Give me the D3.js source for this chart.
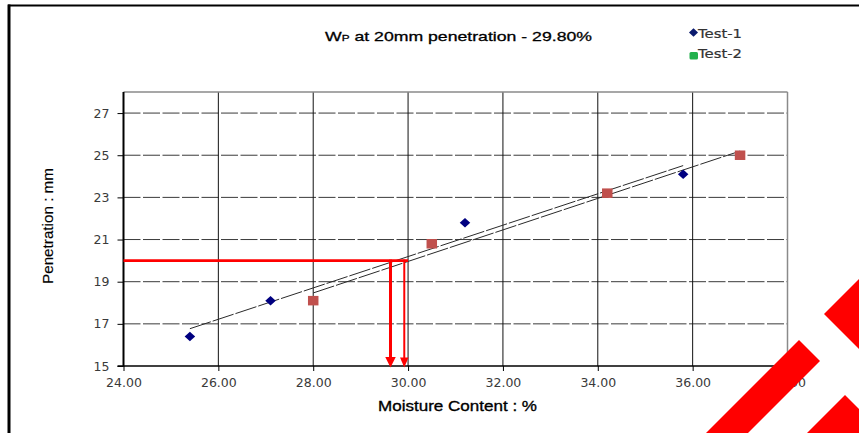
<!DOCTYPE html>
<html>
<head>
<meta charset="utf-8">
<script src="https://cdn.jsdelivr.net/npm/d3@7"></script>
<style>
html,body{margin:0;padding:0;background:#fff;}
svg{display:block;}
</style>
</head>
<body>
<svg id="chart" width="859" height="433"></svg>
<script>
// ---- data ----
const test1X = [25.4, 27.1, 31.2, 35.8];
const test1Y = [16.4, 18.1, 21.8, 24.1];
const test2X = [28.0, 30.5, 34.2, 37.0];
const test2Y = [18.1, 20.8, 23.2, 25.0];
const seriesNames = ["Test-1", "Test-2"];
const xTicks = [24, 26, 28, 30, 32, 34, 36, 38];
const yTicks = [15, 17, 19, 21, 23, 25, 27];
const targetPenetration = 20;
const arrowMoisture = [29.63, 29.92];
const guideEndMoisture = 30.0;
const titleMain = "W";
const titleSub = "P";
const titleRest = " at 20mm penetration - 29.80%";
const xTitle = "Moisture Content : %";
const yTitle = "Penetration : mm";

// ---- layout ----
const svg = d3.select("#chart");
const L = 123.5, R = 787.5, T = 92, B = 366;
const x = d3.scaleLinear([24, 38], [L, R]);
const y = d3.scaleLinear([15, 28], [B, T]);

// outer frame (top & left)
svg.append("line").attr("x1", 8).attr("x2", 859).attr("y1", 5.5).attr("y2", 5.5)
  .attr("stroke", "#000").attr("stroke-width", 2.2);
svg.append("line").attr("x1", 9).attr("x2", 9).attr("y1", 4.5).attr("y2", 433)
  .attr("stroke", "#000").attr("stroke-width", 3);

// gridlines
const g = svg.append("g");
g.selectAll(".hg").data(yTicks.filter(v => v > 15)).join("line")
  .attr("x1", L).attr("x2", R).attr("y1", d => y(d)).attr("y2", d => y(d))
  .attr("stroke", "#3a3a3a").attr("stroke-width", 1).attr("stroke-dasharray", "17,2.5");
g.selectAll(".vg").data(xTicks.filter(v => v > 24 && v < 38)).join("line")
  .attr("x1", d => x(d)).attr("x2", d => x(d)).attr("y1", T).attr("y2", B)
  .attr("stroke", "#111").attr("stroke-width", 1);

// plot border top/right (grey)
svg.append("line").attr("x1", L).attr("x2", R).attr("y1", T).attr("y2", T)
  .attr("stroke", "#8a8a8a").attr("stroke-width", 1.5);
svg.append("line").attr("x1", R).attr("x2", R).attr("y1", T).attr("y2", B)
  .attr("stroke", "#8a8a8a").attr("stroke-width", 1.5);

// axes
const xAxis = svg.append("g").attr("transform", `translate(0,${B})`)
  .call(d3.axisBottom(x).tickValues(xTicks).tickFormat(d3.format(".2f")).tickSize(5).tickPadding(7));
const yAxis = svg.append("g").attr("transform", `translate(${L},0)`)
  .call(d3.axisLeft(y).tickValues(yTicks).tickFormat(d3.format("d")).tickSize(6).tickPadding(8));
[xAxis, yAxis].forEach(a => {
  a.select(".domain").remove();
  a.selectAll(".tick line").attr("stroke", "#000").attr("stroke-width", 1);
  a.selectAll("text").attr("fill", "#3a3a3a").style("font-family", "'DejaVu Sans', sans-serif").style("font-size", "12.5px");
});
svg.append("line").attr("x1", L).attr("x2", L).attr("y1", T).attr("y2", B + 0.5)
  .attr("stroke", "#000").attr("stroke-width", 2);
svg.append("line").attr("x1", L - 6).attr("x2", R).attr("y1", B).attr("y2", B)
  .attr("stroke", "#000").attr("stroke-width", 1.5);

// trend lines (least squares) from data
function fit(xs, ys) {
  const mx = d3.mean(xs), my = d3.mean(ys);
  const sxy = d3.sum(xs, (v, i) => (v - mx) * (ys[i] - my));
  const sxx = d3.sum(xs, v => (v - mx) * (v - mx));
  const m = sxy / sxx, c = my - m * mx;
  const x0 = d3.min(xs), x1 = d3.max(xs);
  return [[x0, m * x0 + c], [x1, m * x1 + c]];
}
const lineGen = d3.line().x(d => x(d[0])).y(d => y(d[1]));
[fit(test1X, test1Y), fit(test2X, test2Y)].forEach(seg => {
  svg.append("path").attr("d", lineGen(seg)).attr("fill", "none")
    .attr("stroke", "#2a2a2a").attr("stroke-width", 1).attr("stroke-dasharray", "22,2");
});

// red guide lines and arrows
svg.append("line").attr("x1", L).attr("x2", x(guideEndMoisture))
  .attr("y1", y(targetPenetration)).attr("y2", y(targetPenetration))
  .attr("stroke", "#ff0000").attr("stroke-width", 2.8);
const arrowW = [3, 2], headW = [10.5, 8.5], headH = [10.5, 10];
arrowMoisture.forEach((m, i) => {
  const ax = x(m), tip = y(15) + 1.5;
  svg.append("line").attr("x1", ax).attr("x2", ax).attr("y1", y(targetPenetration) - 1).attr("y2", tip - headH[i] + 1)
    .attr("stroke", "#ff0000").attr("stroke-width", arrowW[i]);
  svg.append("path")
    .attr("d", `M${ax - headW[i] / 2},${tip - headH[i]}L${ax + headW[i] / 2},${tip - headH[i]}L${ax},${tip}Z`)
    .attr("fill", "#ff0000");
});

// markers
const diamondPath = (w, h) => `M0,${-h / 2}L${w / 2},0L0,${h / 2}L${-w / 2},0Z`;
svg.selectAll(".t1").data(test1X.map((v, i) => [v, test1Y[i]])).join("path")
  .attr("d", diamondPath(10.5, 9.5)).attr("transform", d => `translate(${x(d[0])},${y(d[1])})`)
  .attr("fill", "#000080");
svg.selectAll(".t2").data(test2X.map((v, i) => [v, test2Y[i]])).join("rect")
  .attr("x", d => x(d[0]) - 5.25).attr("y", d => y(d[1]) - 4.75).attr("width", 10.5).attr("height", 9.5)
  .attr("fill", "#c0504d");

// title (single text element with a small-caps P)
const tf = "'Liberation Sans', Arial, sans-serif";
const title = svg.append("text").attr("x", 325).attr("y", 41)
  .attr("font-family", tf).attr("font-size", 13.5).attr("fill", "#000").attr("stroke", "#000")
  .attr("stroke-width", 0.3).attr("textLength", 267).attr("lengthAdjust", "spacingAndGlyphs");
title.append("tspan").text(titleMain);
title.append("tspan").attr("font-size", 9).text(titleSub);
title.append("tspan").text(titleRest);

// legend
const legY = [37.5, 58];
svg.append("path").attr("d", diamondPath(9, 8.5))
  .attr("transform", `translate(693.5,32.5)`).attr("fill", "#0a1a6e");
svg.append("rect").attr("x", 689.5).attr("y", 52).attr("width", 8.5).attr("height", 7.5).attr("rx", 1.5)
  .attr("fill", "#22b04c");
seriesNames.forEach((n, i) => {
  svg.append("text").attr("x", 698).attr("y", legY[i]).text(n)
    .attr("font-family", "'DejaVu Sans', sans-serif").attr("font-size", 12.5).attr("fill", "#333")
    .attr("stroke", "#333").attr("stroke-width", 0.2)
    .attr("textLength", 44).attr("lengthAdjust", "spacingAndGlyphs");
});

// axis titles
svg.append("text").attr("x", 378).attr("y", 411).text(xTitle)
  .attr("font-family", tf).attr("font-size", 15.5).attr("fill", "#000").attr("stroke", "#000").attr("stroke-width", 0.35)
  .attr("textLength", 159).attr("lengthAdjust", "spacingAndGlyphs");
svg.append("text").attr("transform", "translate(53,226) rotate(-90)").attr("text-anchor", "middle").text(yTitle)
  .attr("font-family", tf).attr("font-size", 15.5).attr("fill", "#000").attr("stroke", "#000").attr("stroke-width", 0.15)
  .attr("textLength", 116).attr("lengthAdjust", "spacingAndGlyphs");

// red corner decoration
const deco = svg.append("g").attr("fill", "#ff0000");
deco.append("polygon").attr("points", "706,433 799,340 820,361 748,433");
deco.append("polygon").attr("points", "824,314 859,279 859,349");
deco.append("polygon").attr("points", "845,395 859,409 859,433 807,433");
</script>
</body>
</html>
